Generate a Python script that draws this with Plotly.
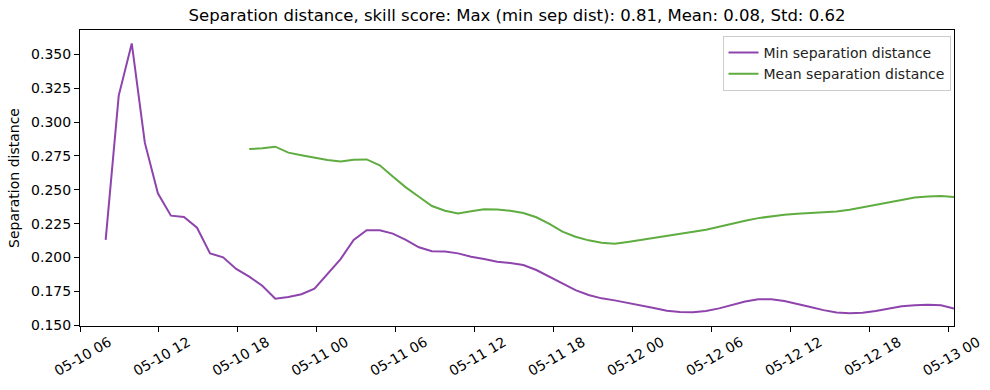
import pandas as pd
import plotly.graph_objects as go

# Time axis: 66 roughly hourly steps
start_time = "2024-05-10 07:57"
n_steps = 66
step = "3570s"
times = pd.date_range(start=start_time, periods=n_steps, freq=step)

min_sep = [
    0.2130, 0.3195, 0.3580, 0.2848, 0.2474, 0.2309, 0.2299, 0.2220, 0.2031, 0.2002,
    0.1916, 0.1859, 0.1792, 0.1696, 0.1709, 0.1729, 0.1770, 0.1879, 0.1989, 0.2130,
    0.2201, 0.2201, 0.2177, 0.2130, 0.2076, 0.2046, 0.2044, 0.2031, 0.2006, 0.1989,
    0.1969, 0.1960, 0.1945, 0.1908, 0.1859, 0.1810, 0.1760, 0.1724, 0.1699, 0.1684,
    0.1667, 0.1648, 0.1628, 0.1608, 0.1598, 0.1597, 0.1605, 0.1625, 0.1650, 0.1675,
    0.1692, 0.1693, 0.1680, 0.1660, 0.1635, 0.1612, 0.1595, 0.1589, 0.1592, 0.1605,
    0.1625, 0.1640, 0.1648, 0.1652, 0.1648, 0.1623,
]

mean_sep = [None] * 11 + [
    0.2801, 0.2806, 0.2818, 0.2774, 0.2755, 0.2735, 0.2720, 0.2708, 0.2722,
    0.2724, 0.2681, 0.2598, 0.2518, 0.2449, 0.2380, 0.2346, 0.2326, 0.2341, 0.2356,
    0.2354, 0.2346, 0.2329, 0.2297, 0.2248, 0.2191, 0.2154, 0.2127, 0.2110, 0.2102,
    0.2115, 0.2130, 0.2144, 0.2159, 0.2172, 0.2186, 0.2205, 0.2228, 0.2252, 0.2272,
    0.2291, 0.2305, 0.2316, 0.2324, 0.2330, 0.2334, 0.2340, 0.2352, 0.2370, 0.2390,
    0.2410, 0.2428, 0.2443, 0.2451, 0.2454, 0.2446,
]

y_ticks = [0.150, 0.175, 0.200, 0.225, 0.250, 0.275, 0.300, 0.325, 0.350]

title_text = "Separation distance, skill score: Max (min sep dist): 0.81, Mean: 0.08, Std: 0.62"

FONT = "DejaVu Sans"

fig = go.Figure()
fig.add_trace(go.Scatter(x=times, y=min_sep, mode="lines", name="Min separation distance",
                         line=dict(color="#8E44AD", width=2)))
fig.add_trace(go.Scatter(x=times, y=mean_sep, mode="lines", name="Mean separation distance",
                         line=dict(color="#5FAD41", width=2), connectgaps=False))

fig.update_layout(
    width=990, height=390,
    margin=dict(l=80, r=36, t=30, b=64, autoexpand=False),
    paper_bgcolor="white", plot_bgcolor="white",
    font=dict(family=FONT, size=14, color="black"),
    title=dict(text=title_text, x=0.5, xref="paper", y=1 - 15 / 390, yref="container",
               xanchor="center", yanchor="middle", font=dict(family=FONT, size=16.5, color="black")),
    showlegend=True,
    legend=dict(x=0.996, y=0.98, xanchor="right", yanchor="top",
                bgcolor="rgba(255,255,255,0.8)", bordercolor="#cccccc", borderwidth=1,
                font=dict(family=FONT, size=14, color="#222222"),
                tracegroupgap=0, itemwidth=30),
)

fig.update_xaxes(
    type="date", automargin=False,
    range=[pd.Timestamp("2024-05-10 06:00"), times[-1]],
    tick0="2024-05-10 06:00", dtick=6 * 3600 * 1000,
    tickformat="%m-%d %H", tickangle=-30,
    ticks="outside", ticklen=5, tickwidth=1, tickcolor="black",
    showline=True, linecolor="black", linewidth=1, mirror=True,
    showgrid=False, zeroline=False,
    ticklabelshift=29, ticklabelstandoff=-3,
    tickfont=dict(family=FONT, size=14, color="black"),
)
fig.update_yaxes(
    automargin=False,
    range=[0.1495, 0.3679],
    tickvals=y_ticks, tickformat=".3f",
    ticks="outside", ticklen=5, tickwidth=1, tickcolor="black",
    showline=True, linecolor="black", linewidth=1, mirror=True,
    showgrid=False, zeroline=False,
    title=dict(text="Separation distance", font=dict(family=FONT, size=14, color="black"), standoff=8),
    tickfont=dict(family=FONT, size=14, color="black"),
)

fig.write_html("out.html", config={"displayModeBar": False},
               post_script="document.body.style.margin='0';")
